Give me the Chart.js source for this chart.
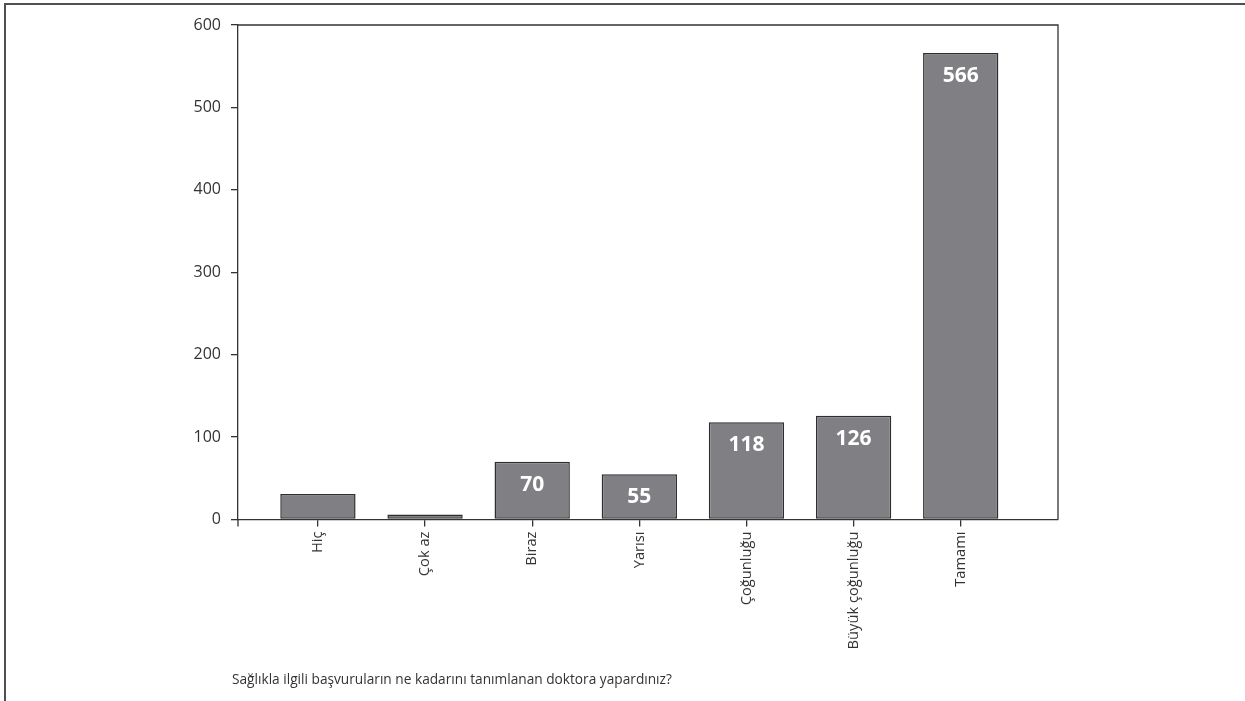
<!DOCTYPE html>
<html>
<head>
<meta charset="utf-8">
<script src="https://cdn.jsdelivr.net/npm/chart.js@4.4.1/dist/chart.umd.min.js"></script>
<style>
html,body{margin:0;padding:0;background:#fff;}
#wrap{position:relative;width:1245px;height:701px;overflow:hidden;}
#frame{position:absolute;left:4px;top:3px;width:1241px;height:698px;border-top:2px solid #505050;border-left:2px solid #505050;box-sizing:border-box;}
#caption{position:absolute;left:232px;top:669px;font:13.7px "Open Sans";color:#333;white-space:nowrap;}
#c{position:absolute;left:0;top:0;}
</style>
</head>
<body>
<div id="wrap">
  <div id="frame"></div>
  <canvas id="c" width="1245" height="701"></canvas>
  <div id="caption">Sağlıkla ilgili başvuruların ne kadarını tanımlanan doktora yapardınız?</div>
</div>
<script>
// answers and counts
var categories = ['Hiç','Çok az','Biraz','Yarısı','Çoğunluğu','Büyük çoğunluğu','Tamamı'];
var counts = [31, 6, 70, 55, 118, 126, 566];
var showValue = [false, false, true, true, true, true, true];
var yTicks = [0, 100, 200, 300, 400, 500, 600];

var axisColor = '#333';
var fontFam = '"Open Sans", "Noto Sans", sans-serif';

// top/right lines of the plot box, plus the small stub below the y axis
var boxLines = {
  id:'boxLines',
  afterDraw:function(chart){
    var a = chart.chartArea, ctx = chart.ctx;
    ctx.save();
    ctx.strokeStyle = axisColor;
    ctx.lineWidth = 1.3;
    ctx.beginPath();
    ctx.moveTo(a.left, a.top);
    ctx.lineTo(a.right, a.top);
    ctx.lineTo(a.right, a.bottom);
    ctx.moveTo(a.left, a.bottom);
    ctx.lineTo(a.left, a.bottom + 7);
    ctx.stroke();
    ctx.restore();
  }
};

var valueLabels = {
  id:'valueLabels',
  afterDatasetsDraw:function(chart){
    var ctx = chart.ctx;
    var bars = chart.getDatasetMeta(0).data;
    ctx.save();
    ctx.fillStyle = '#fff';
    ctx.font = 'bold 21px ' + fontFam;
    ctx.textAlign = 'center';
    ctx.textBaseline = 'middle';
    bars.forEach(function(bar, i){
      if(!showValue[i]) return;
      ctx.fillText(String(counts[i]), bar.x, bar.y + 23);
    });
    ctx.restore();
  }
};

new Chart(document.getElementById('c'), {
  type:'bar',
  data:{
    datasets:[{
      data: categories.map(function(c, i){ return {x:i, y:counts[i]}; }),
      backgroundColor:'#808084',
      borderColor:'#2e2e2e',
      borderWidth:1.5,
      borderSkipped:false,
      categoryPercentage:1,
      barPercentage:0.703
    }]
  },
  options:{
    responsive:false,
    animation:false,
    layout:{padding:{left:0, top:25, right:187, bottom:0}},
    plugins:{legend:{display:false}, tooltip:{enabled:false}},
    scales:{
      x:{
        type:'linear',
        offset:false,
        min:-0.746,
        max:6.908,
        afterFit:function(s){ s.height = 181.5; },
        grid:{display:true, offset:false, drawOnChartArea:false, drawTicks:true, tickLength:7, color:axisColor, lineWidth:1.3},
        border:{display:true, color:axisColor, width:1.3},
        ticks:{
          stepSize:1,
          includeBounds:false,
          autoSkip:false,
          minRotation:90,
          maxRotation:90,
          padding:5,
          color:'#333',
          font:{family:fontFam, size:14.7},
          callback:function(v){ return categories[v] !== undefined ? categories[v] : ''; }
        }
      },
      y:{
        min:0,
        max:600,
        afterFit:function(s){ s.width = 238; },
        afterBuildTicks:function(s){ s.ticks = yTicks.map(function(v){ return {value:v}; }); },
        grid:{display:true, drawOnChartArea:false, drawTicks:true, tickLength:7, color:axisColor, lineWidth:1.3},
        border:{display:true, color:axisColor, width:1.3},
        ticks:{padding:10, color:'#333', font:{family:fontFam, size:16}}
      }
    }
  },
  plugins:[boxLines, valueLabels]
});
</script>
</body>
</html>
